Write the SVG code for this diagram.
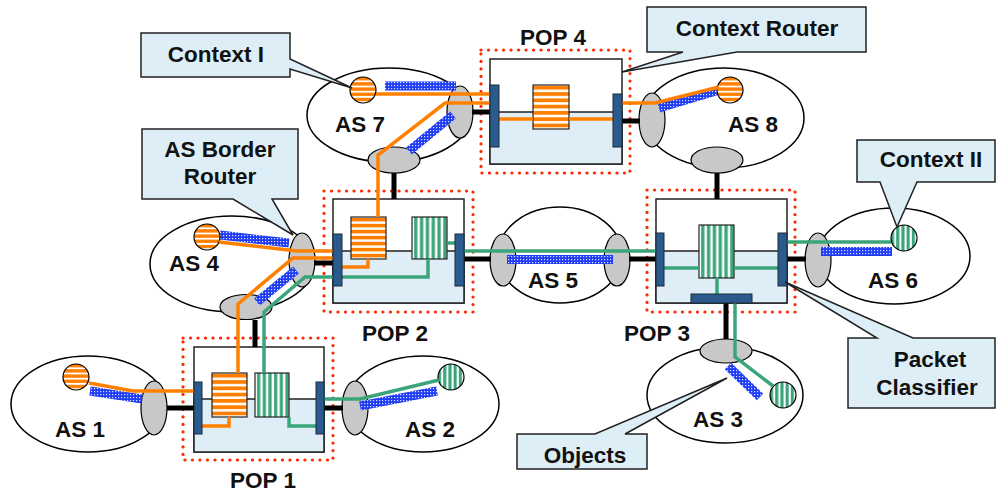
<svg xmlns="http://www.w3.org/2000/svg" width="997" height="493" viewBox="0 0 997 493">
<style>
.as{fill:#fff;stroke:#000;stroke-width:1.5}
.gw{fill:#C8C8C8;stroke:#000;stroke-width:1.2}
.bar{stroke:url(#mesh);stroke-width:9;fill:none}
.oc{fill:url(#ohc);stroke:#000;stroke-width:1.2}
.gc{fill:url(#gvc);stroke:#000;stroke-width:1.2}
.pop{fill:none;stroke:#FF2A00;stroke-width:3.2;stroke-dasharray:0.1 7.4;stroke-linecap:round}
.box{fill:#fff;stroke:#222;stroke-width:1.5}
.low{fill:#DFEEF6;stroke:#222;stroke-width:1.5}
.port{fill:#2B5A8C;stroke:#1a2a3a;stroke-width:1}
.ob{fill:url(#ohs);stroke:#222;stroke-width:1.2}
.gb{fill:url(#gvs);stroke:#222;stroke-width:1.2}
.lk{stroke:#000;stroke-width:5;fill:none}
.or{stroke:#FF8000;stroke-width:3.5;fill:none}
.gr{stroke:#3AA57A;stroke-width:3.5;fill:none}
.co{fill:#DDEEF7;stroke:#222;stroke-width:1.5}
text{font-family:"Liberation Sans",Arial,sans-serif;font-weight:bold;font-size:22.5px;text-anchor:middle;fill:#111}
</style>
<defs>
<pattern id="mesh" width="3" height="3" patternUnits="userSpaceOnUse"><rect width="3" height="3" fill="#1F3CF5"/><rect x="1" y="1" width="1.2" height="1.2" fill="#fff" opacity="0.85"/></pattern>
<pattern id="ohs" patternUnits="objectBoundingBox" patternContentUnits="objectBoundingBox" width="1" height="0.142857"><rect width="1" height="0.142857" fill="#fff"/><rect y="0.02" width="1" height="0.085" fill="#FF8000"/></pattern>
<pattern id="gvs" patternUnits="objectBoundingBox" patternContentUnits="objectBoundingBox" width="0.1667" height="1"><rect width="0.1667" height="1" fill="#fff"/><rect x="0.06" width="0.095" height="1" fill="#3AA57A"/></pattern>
<pattern id="ohc" patternUnits="objectBoundingBox" patternContentUnits="objectBoundingBox" width="1" height="0.2"><rect width="1" height="0.2" fill="#fff"/><rect width="1" height="0.13" fill="#FF8000"/></pattern>
<pattern id="gvc" patternUnits="objectBoundingBox" patternContentUnits="objectBoundingBox" width="0.2" height="1"><rect width="0.2" height="1" fill="#fff"/><rect width="0.12" height="1" fill="#3AA57A"/></pattern>
</defs>

<g id="as7">
<ellipse class="as" cx="389" cy="115" rx="82" ry="47"/>
<ellipse class="gw" cx="460" cy="112" rx="13" ry="26"/>
<ellipse class="gw" cx="394" cy="160" rx="26" ry="13"/>
<line class="bar" x1="385" y1="86" x2="456" y2="86"/>
<line class="bar" x1="453" y1="115" x2="409" y2="151"/>
<circle class="oc" cx="363" cy="90" r="13"/>
<text x="360" y="132">AS 7</text>
</g>
<g id="as8">
<ellipse class="as" cx="724" cy="118" rx="80" ry="50"/>
<ellipse class="gw" cx="652" cy="120" rx="13" ry="27"/>
<ellipse class="gw" cx="717" cy="160" rx="26" ry="13"/>
<line class="bar" x1="659" y1="108" x2="716" y2="91"/>
<circle class="oc" cx="730" cy="90" r="13"/>
<text x="753" y="132">AS 8</text>
</g>
<g id="as4">
<ellipse class="as" cx="232" cy="264" rx="82" ry="48"/>
<ellipse class="gw" cx="302" cy="260" rx="13" ry="27"/>
<ellipse class="gw" cx="246" cy="307" rx="26" ry="12.5"/>
<line class="bar" x1="220" y1="235" x2="289" y2="243"/>
<line class="bar" x1="296" y1="270" x2="257" y2="302"/>
<circle class="oc" cx="207" cy="237" r="13"/>
<text x="194" y="271">AS 4</text>
</g>
<g id="as5">
<ellipse class="as" cx="560" cy="255" rx="62" ry="48"/>
<ellipse class="gw" cx="503" cy="260" rx="13" ry="26"/>
<ellipse class="gw" cx="617" cy="260" rx="13" ry="26"/>
<line class="bar" x1="507" y1="259.5" x2="613" y2="259.5"/>
<text x="553" y="288">AS 5</text>
</g>
<g id="as6">
<ellipse class="as" cx="894" cy="256" rx="76" ry="48"/>
<ellipse class="gw" cx="818" cy="260" rx="13" ry="27"/>
<line class="bar" x1="821" y1="251.5" x2="892" y2="251.5"/>
<circle class="gc" cx="904" cy="238" r="13"/>
<text x="893" y="288">AS 6</text>
</g>
<g id="as3">
<ellipse class="as" cx="725" cy="395" rx="78" ry="48"/>
<ellipse class="gw" cx="726" cy="351" rx="26" ry="12"/>
<line class="bar" x1="728" y1="366" x2="760" y2="397"/>
<circle class="gc" cx="783" cy="395" r="13"/>
<text x="718" y="427">AS 3</text>
</g>
<g id="as1">
<ellipse class="as" cx="88" cy="404" rx="77" ry="48"/>
<ellipse class="gw" cx="154" cy="408" rx="13" ry="27"/>
<line class="bar" x1="90" y1="391" x2="142" y2="399"/>
<circle class="oc" cx="76" cy="377" r="13"/>
<text x="80" y="437">AS 1</text>
</g>
<g id="as2">
<ellipse class="as" cx="423" cy="404" rx="76" ry="48"/>
<ellipse class="gw" cx="355" cy="408" rx="13" ry="27"/>
<line class="bar" x1="360" y1="406" x2="437" y2="391"/>
<circle class="gc" cx="451" cy="377" r="13"/>
<text x="430" y="437">AS 2</text>
</g>

<g id="pop4">
<rect class="box" x="490" y="59" width="132" height="105"/>
<rect class="low" x="490" y="112" width="132" height="52"/>
<rect class="ob" x="533" y="85" width="36" height="44"/>
<rect class="pop" x="481" y="50" width="149" height="123"/>
<text x="553" y="45">POP 4</text>
</g>
<g id="pop2">
<rect class="box" x="333" y="199" width="131" height="104"/>
<rect class="low" x="333" y="251" width="131" height="52"/>
<rect class="ob" x="351" y="217" width="35" height="42"/>
<rect class="gb" x="412" y="217" width="35" height="42"/>
<rect class="pop" x="324" y="191" width="149" height="121"/>
<text x="395" y="341">POP 2</text>
</g>
<g id="pop3">
<rect class="box" x="656" y="199" width="131" height="104"/>
<rect class="low" x="656" y="251" width="131" height="52"/>
<rect class="gb" x="699" y="225" width="35" height="53"/>
<rect class="pop" x="647" y="190" width="148" height="122"/>
<text x="657" y="341">POP 3</text>
</g>
<g id="pop1">
<rect class="box" x="194" y="347" width="130" height="105"/>
<rect class="low" x="194" y="399" width="130" height="53"/>
<rect class="ob" x="212" y="373" width="35" height="44"/>
<rect class="gb" x="255" y="373" width="34" height="44"/>
<rect class="pop" x="183" y="338" width="150" height="122"/>
<text x="263" y="488">POP 1</text>
</g>

<g id="connectors">
<path class="lk" d="M472,112 H491 M394,173 V199 M622,121 H640 M717,173 V199 M314,263 H333 M255,320 V347 M464,259 H491 M629,259 H656 M787,259 H806 M726,303 V339 M167,408 H194 M324,408 H343"/>
<path class="or" d="M376,94 H490"/>
<path class="or" d="M490,103 H445 L378,155 V217"/>
<path class="or" d="M499,119 H533 M569,119 H613"/>
<path class="or" d="M622,103 H655 L719,87"/>
<path class="or" d="M219,242 L297,251 H333"/>
<path class="or" d="M342,267 H368 V259"/>
<path class="or" d="M333,258 H293 L238,304 V373"/>
<path class="or" d="M229,417 V426 H202"/>
<path class="or" d="M194,391 H133 L89,383"/>
<path class="gr" d="M428,259 V277 H342"/>
<path class="gr" d="M333,277 H305 L264,312 V373"/>
<path class="gr" d="M447,243 H455"/>
<path class="gr" d="M464,251 H656"/>
<path class="gr" d="M664,268 H699 M734,268 H778 M717,278 V294"/>
<path class="gr" d="M787,242 H891"/>
<path class="gr" d="M735,303 V357 L773,386"/>
<path class="gr" d="M289,417 V426 H316"/>
<path class="gr" d="M324,399 H360 L439,380"/>
</g>

<g id="ports">
<rect class="port" x="490" y="85" width="9" height="62"/>
<rect class="port" x="613" y="94" width="9" height="53"/>
<rect class="port" x="333" y="234" width="9" height="52"/>
<rect class="port" x="455" y="234" width="9" height="52"/>
<rect class="port" x="656" y="233" width="8" height="53"/>
<rect class="port" x="778" y="233" width="9" height="53"/>
<rect class="port" x="691" y="294" width="61" height="9"/>
<rect class="port" x="194" y="382" width="8" height="52"/>
<rect class="port" x="316" y="382" width="8" height="52"/>
</g>

<g id="callout-context-i">
<path class="co" d="M141,33 H290 V59 L352,88 L290,69 V77 H141 Z"/>
<text x="216" y="62">Context I</text>
</g>
<g id="callout-context-router">
<path class="co" d="M647,7 H866 V52 H737 L622,72 L683,52 H647 Z"/>
<text x="757" y="36">Context Router</text>
</g>
<g id="callout-border-router">
<path class="co" d="M142,129 H298 V199 H272 L293,235 L233,199 H142 Z"/>
<text x="220" y="157">AS Border</text>
<text x="220" y="184">Router</text>
</g>
<g id="callout-context-ii">
<path class="co" d="M857,140 H995 V182 H917 L897,227 L880,182 H857 Z"/>
<text x="931" y="167">Context II</text>
</g>
<g id="callout-packet-classifier">
<path class="co" d="M848,338 H877 L785,282 L913,338 H995 V408 H848 Z"/>
<text x="930" y="367">Packet</text>
<text x="927" y="395">Classifier</text>
</g>
<g id="callout-objects">
<path class="co" d="M517,434 H595 L727,378 L625,434 H647 V469 H517 Z"/>
<text x="585" y="463">Objects</text>
</g>
</svg>
